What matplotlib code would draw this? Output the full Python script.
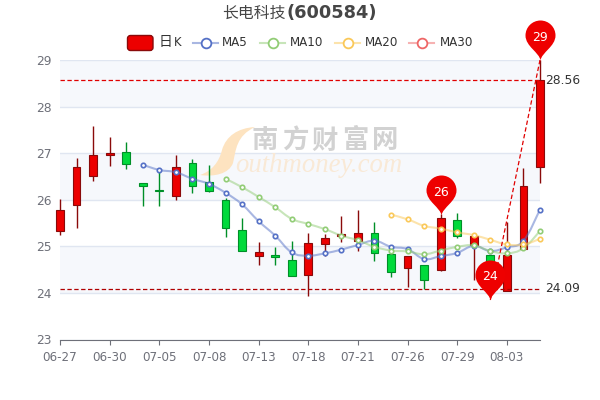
import numpy as np
import matplotlib
matplotlib.use("Agg")
import matplotlib.pyplot as plt
from matplotlib.path import Path
from matplotlib.patches import PathPatch, FancyBboxPatch
from matplotlib.lines import Line2D
from matplotlib.transforms import Affine2D

dates = ["06-27", "06-28", "06-29", "06-30", "07-01", "07-04", "07-05", "07-06", "07-07", "07-08",
         "07-11", "07-12", "07-13", "07-14", "07-15", "07-18", "07-19", "07-20", "07-21", "07-22",
         "07-25", "07-26", "07-27", "07-28", "07-29", "08-01", "08-02", "08-03", "08-04", "08-05"]

opens = [25.32, 25.88, 26.50, 26.95, 27.03, 26.35, 26.20, 26.08, 26.78, 26.39,
         25.99, 25.34, 24.79, 24.81, 24.70, 24.38, 25.04, 25.22, 25.12, 25.29,
         24.83, 24.54, 24.61, 24.49, 25.56, 25.03, 24.81, 24.04, 24.95, 26.70]
closes = [25.79, 26.70, 26.95, 27.00, 26.77, 26.29, 26.18, 26.70, 26.30, 26.19,
          25.39, 24.90, 24.87, 24.78, 24.37, 25.08, 25.17, 25.26, 25.29, 24.86,
          24.44, 24.79, 24.27, 25.60, 25.22, 25.22, 24.35, 24.81, 26.30, 28.57]
highs = [26.02, 26.89, 27.58, 27.35, 27.23, 26.35, 26.67, 26.95, 26.87, 26.74,
         26.03, 25.60, 25.09, 24.98, 25.11, 25.28, 25.26, 25.65, 25.78, 25.53,
         24.83, 24.79, 24.61, 25.70, 25.71, 25.27, 24.81, 25.53, 26.68, 29.00]
lows = [25.24, 25.39, 26.41, 26.73, 26.66, 25.87, 25.87, 26.00, 26.15, 26.17,
        25.21, 24.90, 24.59, 24.60, 24.37, 23.93, 24.79, 25.10, 24.90, 24.69,
        24.35, 24.13, 24.08, 24.47, 25.17, 24.28, 24.30, 24.04, 24.93, 26.37]

ma5 = [26.75, 26.64, 26.59, 26.45, 26.34, 26.15, 25.90, 25.54, 25.23, 24.87, 24.80, 24.85,
       24.93, 25.03, 25.12, 24.99, 24.94, 24.73, 24.79, 24.86, 25.01, 24.90, 24.98, 25.12, 25.79]
ma10 = [26.45, 26.27, 26.06, 25.84, 25.59, 25.48, 25.37, 25.23, 25.13, 24.99,
        24.91, 24.89, 24.83, 24.91, 24.99, 25.02, 24.90, 24.85, 24.96, 25.33]
ma20 = [25.68, 25.58, 25.44, 25.38, 25.30, 25.24, 25.14, 25.04, 25.04, 25.16]

high_line = 28.56
low_line = 24.09
pin_x = [23, 26, 29]
pin_y = [25.67, 23.85, 29.0]
pin_text = ["26", "24", "29"]

RED = "#ec0000"
RED_EDGE = "#8a0a0a"
GREEN = "#00da3c"
GREEN_EDGE = "#008f28"
MA_COLORS = ["#5470c6", "#91cc75", "#fac858", "#ee6666"]
GRAY = "#6e7079"
CJK = ["Noto Sans CJK SC", "DejaVu Sans"]

fig = plt.figure(figsize=(6, 4), dpi=100)
ax = fig.add_axes([60 / 600, 1 - 339.5 / 400, 480 / 600, 279.5 / 400])
ax.set_xlim(0, 29)
ax.set_ylim(23, 29)

# pixel coordinates of the image, for the things that are not data
px = Affine2D().scale(1, -1).translate(0, 400)


def smooth(xs, ys, k=0.2):
    verts = [(xs[0], ys[0])]
    codes = [Path.MOVETO]
    n = len(xs)
    for i in range(n - 1):
        a = max(i - 1, 0)
        b = min(i + 2, n - 1)
        verts.append((xs[i] + k * (xs[i + 1] - xs[a]), ys[i] + k * (ys[i + 1] - ys[a])))
        verts.append((xs[i + 1] - k * (xs[b] - xs[i]), ys[i + 1] - k * (ys[b] - ys[i])))
        verts.append((xs[i + 1], ys[i + 1]))
        codes += [Path.CURVE4] * 3
    return Path(verts, codes)


# bands and grid
for low in [28, 26, 24]:
    ax.axhspan(low, low + 1, color="#f6f8fc", lw=0, zorder=0)
ax.set_yticks(range(23, 30))
ax.grid(axis="y", color="#e0e6f1", lw=1, zorder=0.5)
ax.set_axisbelow(True)
for s in ["top", "left", "right"]:
    ax.spines[s].set_visible(False)
ax.spines["bottom"].set_color(GRAY)
ax.spines["bottom"].set_zorder(2.5)
ax.set_xticks(range(0, 30, 3))
ax.set_xticklabels(dates[::3])
ax.tick_params(axis="x", colors=GRAY, labelsize=8.6, length=3.6, width=0.8, pad=5)
ax.tick_params(axis="y", colors=GRAY, labelsize=8.8, length=0, pad=6)

# watermark
swoosh = Path([(255, 127), (238, 128), (226, 136), (222, 150), (219, 162), (212, 171), (200, 175),
               (214, 177), (229, 174), (233, 163), (236, 150), (236, 136), (255, 127)],
              [Path.MOVETO] + [Path.CURVE4] * 12)
ax.add_patch(PathPatch(swoosh, fc="#fde3c0", ec="none", transform=px, clip_on=False, zorder=1))
for i, ch in enumerate("南方财富网"):
    ax.text(265 + i * 30, 141, ch, transform=px, family=CJK, fontsize=19, weight="bold",
            color="#d2d2d2", ha="center", va="center", zorder=1.1)
ax.text(235, 172, "outhmoney.com", transform=px, family="Liberation Serif", style="italic",
        fontsize=19.3, color="#f9e9d6", ha="left", va="baseline", zorder=1.1)

# candles
x = np.arange(len(dates))
for i in x:
    up = closes[i] >= opens[i]
    fc = RED if up else GREEN
    ec = RED_EDGE if up else GREEN_EDGE
    ax.vlines(i, lows[i], highs[i], color=ec, lw=1, zorder=3, clip_on=False)
    ax.bar(i, abs(closes[i] - opens[i]), bottom=min(opens[i], closes[i]), width=0.47,
           color=fc, edgecolor=ec, lw=0.8, zorder=3.1, clip_on=False)

# moving averages
for vals, col, z in [(ma5, MA_COLORS[0], 4), (ma10, MA_COLORS[1], 4.2), (ma20, MA_COLORS[2], 4.4)]:
    xs = x[len(x) - len(vals):]
    ax.add_patch(PathPatch(smooth(xs, vals), fc="none", ec=col, lw=1.5, alpha=0.5, zorder=z, clip_on=False))
    ax.plot(xs, vals, ls="none", marker="o", ms=3.2, mfc="white", mec=col, mew=1.2, zorder=z + 0.1, clip_on=False)

# mark lines
ax.plot([0, 29], [high_line, high_line], color="#e00000", lw=0.9, ls=(0, (3.5, 2)), zorder=5)
ax.plot([0, 29], [low_line, low_line], color="#b00000", lw=0.9, ls=(0, (3.5, 2)), zorder=5)
ax.plot([pin_x[1], pin_x[2]], [pin_y[1], pin_y[2]], color="#e00000", lw=0.9, ls=(0, (3.5, 2)), zorder=5, clip_on=False)
for val in [high_line, low_line]:
    ax.annotate(f"{val:.2f}", (29, val), xytext=(3.6, 0), textcoords="offset points",
                fontsize=8.8, color="#333333", va="center", ha="left", annotation_clip=False)

# pins
pin = Path([(0, 0), (-1, 8), (-15, 14), (-15, 25), (-15, 33.3), (-8.3, 40), (0, 40),
            (8.3, 40), (15, 33.3), (15, 25), (15, 14), (1, 8), (0, 0)],
           [Path.MOVETO] + [Path.CURVE4] * 12)
for px_i, py_i, label in zip(pin_x, pin_y, pin_text):
    ax.plot([px_i], [py_i], ls="none", marker=pin, ms=57.6, mfc="#ee0000", mec="none", zorder=6, clip_on=False)
    ax.annotate(label, (px_i, py_i), xytext=(0, 16.5), textcoords="offset points", color="white",
                fontsize=9, ha="center", va="center", zorder=7, annotation_clip=False)

# title
ax.text(285.5, 13, "长电科技", transform=px, family=CJK, fontsize=11.4, color="#464646",
        ha="right", va="center")
ax.text(286, 13, "(600584)", transform=px, fontsize=12.8, weight="bold", color="#464646",
        ha="left", va="center")

# legend, drawn by hand since the handles do not match a normal legend
ax.add_patch(FancyBboxPatch((127.5, 35.5), 25.5, 15, boxstyle="round,pad=0,rounding_size=3", fc=RED,
                            ec=RED_EDGE, lw=1, transform=px, clip_on=False, zorder=8))
ax.text(159, 42, "日", transform=px, family=CJK, fontsize=10, color="#333333", ha="left", va="center")
ax.text(174, 43, "K", transform=px, fontsize=8.4, color="#333333", ha="left", va="center")
for lx, tx, label, col in [(193, 222, "MA5", MA_COLORS[0]), (260, 290, "MA10", MA_COLORS[1]),
                           (335, 365, "MA20", MA_COLORS[2]), (409, 440, "MA30", MA_COLORS[3])]:
    ax.add_line(Line2D([lx, lx + 25], [43, 43], color=col, lw=1.5, alpha=0.5, transform=px, clip_on=False))
    ax.add_line(Line2D([lx + 12.5], [43], ls="none", marker="o", ms=7, mfc="white", mec=col, mew=1.3,
                       transform=px, clip_on=False))
    ax.text(tx, 43, label, transform=px, fontsize=8.6, color="#333333", ha="left", va="center")

fig.savefig("out.png", dpi=100)
